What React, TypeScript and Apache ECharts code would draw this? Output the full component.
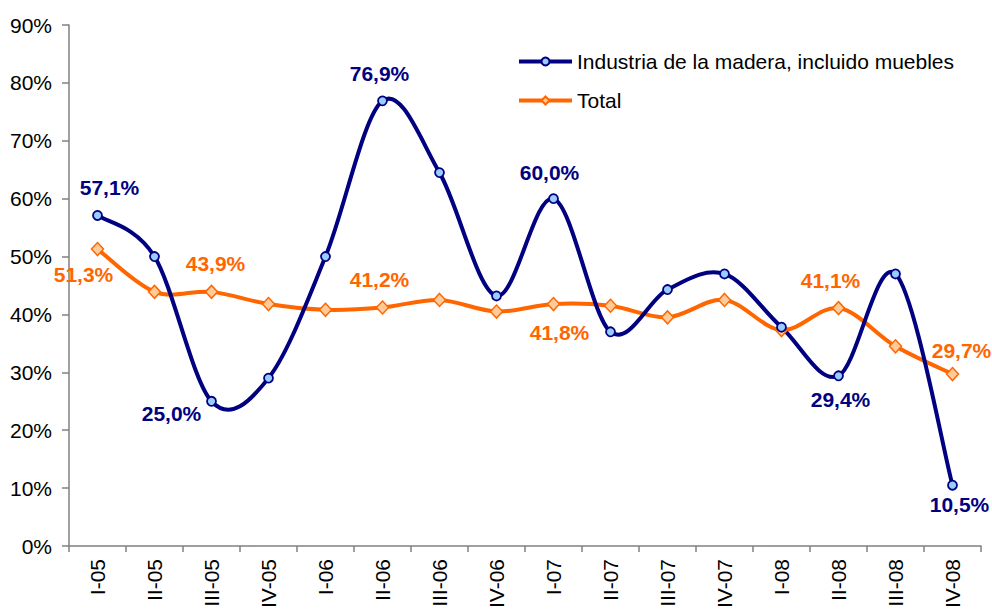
import React, { useEffect, useRef } from "react";
import * as echarts from "echarts";

const categories = ["I-05", "II-05", "III-05", "IV-05", "I-06", "II-06", "III-06", "IV-06", "I-07", "II-07", "III-07", "IV-07", "I-08", "II-08", "III-08", "IV-08"];
const seriesNames = ["Industria de la madera, incluido muebles", "Total"];
const maderaValues = [57.1, 50.0, 25.0, 29.0, 50.0, 76.9, 64.5, 43.2, 60.0, 37.0, 44.3, 47.0, 37.8, 29.4, 47.0, 10.5];
const totalValues = [51.3, 43.9, 43.9, 41.8, 40.8, 41.2, 42.5, 40.5, 41.8, 41.5, 39.5, 42.5, 37.3, 41.1, 34.5, 29.7];
const yTicks = { min: 0, max: 90, interval: 10 };

// label placement: index -> offset of label centre from the point
const maderaLabels: Record<number, [number, number]> = {
  0: [12, -28],
  2: [-40, 12],
  5: [-3, -27],
  8: [-4, -26],
  13: [2, 24],
  15: [7, 19],
};
const totalLabels: Record<number, [number, number]> = {
  0: [-14, 25],
  2: [4, -28],
  5: [-3, -28],
  8: [6, 28],
  13: [-8, -28],
  15: [9, -24],
};

const NAVY = "#000080";
const ORANGE = "#ff6600";
const FONT = "'Liberation Sans', Arial, sans-serif";
const LINE_W = 4;

const fmt = (v: number) => v.toFixed(1).replace(".", ",") + "%";

function buildData(values: number[], labels: Record<number, [number, number]>, color: string) {
  return values.map((v, i) => {
    const off = labels[i];
    if (!off) return { value: v };
    return {
      value: v,
      label: {
        show: true,
        position: "inside",
        offset: off,
        formatter: fmt(v),
        color,
        fontSize: 21,
        fontWeight: "bold",
        fontFamily: FONT,
      },
    };
  });
}

// smooth curve (Catmull-Rom style, like spreadsheet smoothing) through the axis coords
function curveSeries(values: number[], color: string, z: number) {
  return {
    type: "custom",
    z,
    silent: true,
    data: [0],
    renderItem: (_params: any, api: any) => {
      const pts = values.map((v, i) => api.coord([i, v]));
      const n = pts.length;
      let d = `M${pts[0][0]},${pts[0][1]}`;
      for (let i = 0; i < n - 1; i++) {
        const p0 = pts[Math.max(0, i - 1)];
        const p1 = pts[i];
        const p2 = pts[i + 1];
        const p3 = pts[Math.min(n - 1, i + 2)];
        const c1x = p1[0] + (p2[0] - p0[0]) / 6;
        const c1y = p1[1] + (p2[1] - p0[1]) / 6;
        const c2x = p2[0] - (p3[0] - p1[0]) / 6;
        const c2y = p2[1] - (p3[1] - p1[1]) / 6;
        d += ` C${c1x},${c1y} ${c2x},${c2y} ${p2[0]},${p2[1]}`;
      }
      return {
        type: "path",
        shape: { pathData: d },
        style: { stroke: color, lineWidth: LINE_W, fill: "none", lineJoin: "round", lineCap: "round" },
      };
    },
  };
}

export default function App() {
  const ref = useRef<HTMLDivElement>(null);
  useEffect(() => {
    if (!ref.current) return;
    const chart = echarts.init(ref.current, undefined, { renderer: "svg" });
    chart.setOption({
      animation: false,
      backgroundColor: "#ffffff",
      textStyle: { fontFamily: FONT },
      grid: { left: 69, right: 11, top: 25, bottom: 67, containLabel: false },
      legend: {
        orient: "vertical",
        left: 512,
        top: 46,
        itemWidth: 53,
        itemHeight: 10,
        itemGap: 18,
        textStyle: { fontSize: 21, color: "#000", fontFamily: FONT },
        data: [
          { name: seriesNames[0], lineStyle: { color: NAVY, width: LINE_W, opacity: 1 } },
          { name: seriesNames[1], lineStyle: { color: ORANGE, width: LINE_W, opacity: 1 } },
        ],
      },
      xAxis: {
        type: "category",
        data: categories,
        boundaryGap: true,
        axisLine: { lineStyle: { color: "#808080", width: 1.5 } },
        axisTick: { show: true, length: 6, interval: 0, lineStyle: { color: "#808080", width: 1.5 } },
        axisLabel: { rotate: 90, interval: 0, margin: 13, fontSize: 21, color: "#000", fontFamily: FONT },
        splitLine: { show: false },
      },
      yAxis: {
        type: "value",
        min: yTicks.min,
        max: yTicks.max,
        interval: yTicks.interval,
        axisLine: { show: true, lineStyle: { color: "#808080", width: 1.5 } },
        axisTick: { show: true, length: 7, lineStyle: { color: "#808080", width: 1.5 } },
        axisLabel: { formatter: "{value}%", margin: 17, fontSize: 21, color: "#000", fontFamily: FONT },
        splitLine: { show: false },
      },
      series: [
        curveSeries(totalValues, ORANGE, 1),
        curveSeries(maderaValues, NAVY, 2),
        {
          name: seriesNames[0],
          type: "line",
          data: buildData(maderaValues, maderaLabels, NAVY),
          symbol: "circle",
          symbolSize: 9,
          lineStyle: { color: NAVY, width: 0, opacity: 0 },
          itemStyle: { color: "#99ccff", borderColor: NAVY, borderWidth: 1.8 },
          z: 4,
        },
        {
          name: seriesNames[1],
          type: "line",
          data: buildData(totalValues, totalLabels, ORANGE),
          symbol: "diamond",
          symbolSize: [12, 13],
          lineStyle: { color: ORANGE, width: 0, opacity: 0 },
          itemStyle: { color: "#ffcc99", borderColor: ORANGE, borderWidth: 1.5 },
          z: 3,
        },
      ],
    });
    return () => chart.dispose();
  }, []);
  return <div ref={ref} style={{ position: "fixed", left: 0, top: 0, width: 992, height: 613 }} />;
}
